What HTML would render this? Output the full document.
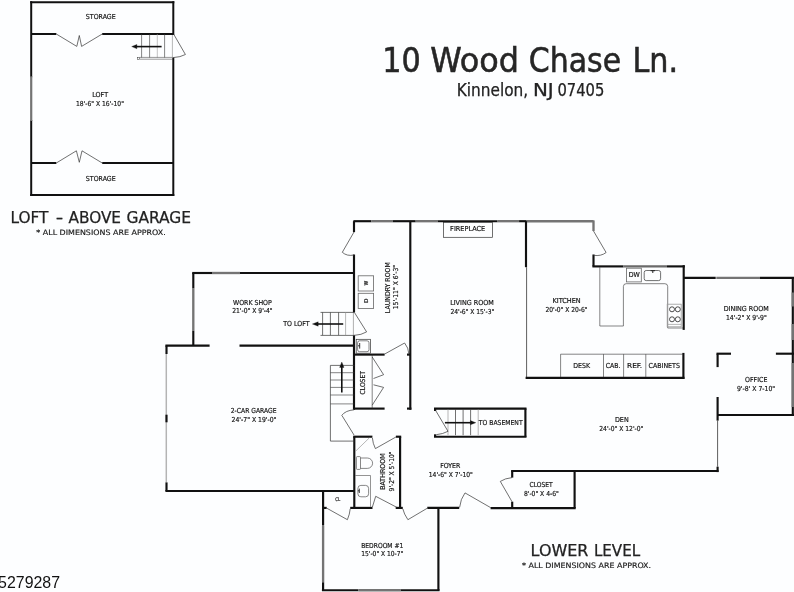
<!DOCTYPE html>
<html lang="en"><head><meta charset="utf-8"><title>10 Wood Chase Ln. - Floor Plan</title>
<style>
html,body{margin:0;padding:0;background:#fdfeff;}
body{width:794px;height:592px;overflow:hidden;}
svg{display:block;will-change:transform;transform:translateZ(0);}
.t{font-family:"DejaVu Sans Condensed","DejaVu Sans","Liberation Sans",sans-serif;fill:#151515;stroke:#151515;stroke-width:0.16px;}
.s{font-family:"DejaVu Sans Condensed","DejaVu Sans","Liberation Sans",sans-serif;fill:#1a1a1a;stroke:#1a1a1a;stroke-width:0.15px;}
.b{font-family:"DejaVu Sans Condensed","DejaVu Sans","Liberation Sans",sans-serif;fill:#222;stroke:#222;stroke-width:0.25px;}
.b1{font-family:"DejaVu Sans Condensed","DejaVu Sans","Liberation Sans",sans-serif;fill:#262626;stroke:#262626;stroke-width:0.5px;}
.a{font-family:"Liberation Sans",sans-serif;fill:#111;}
</style></head><body>
<svg width="794" height="592" viewBox="0 0 794 592">
<rect width="794" height="592" fill="#fdfeff"/>
<line x1="31.2" y1="2.2" x2="173.3" y2="2.2" stroke="#111" stroke-width="2.0" stroke-linecap="square"/>
<line x1="31.2" y1="195" x2="173.3" y2="195" stroke="#111" stroke-width="2.0" stroke-linecap="square"/>
<line x1="31.2" y1="2.2" x2="31.2" y2="76.3" stroke="#111" stroke-width="2.0" stroke-linecap="square"/>
<line x1="31.2" y1="121" x2="31.2" y2="195" stroke="#111" stroke-width="2.0" stroke-linecap="square"/>
<line x1="31.2" y1="76.3" x2="31.2" y2="121" stroke="#747474" stroke-width="2.2" stroke-linecap="butt"/>
<line x1="173.3" y1="2.2" x2="173.3" y2="34" stroke="#111" stroke-width="2.0" stroke-linecap="square"/>
<line x1="173.3" y1="58.5" x2="173.3" y2="195" stroke="#111" stroke-width="2.0" stroke-linecap="square"/>
<line x1="172.4" y1="34" x2="172.4" y2="57.5" stroke="#9a9a9a" stroke-width="0.7" stroke-linecap="butt"/>
<line x1="31.2" y1="34" x2="56.3" y2="34" stroke="#111" stroke-width="2.0" stroke-linecap="butt"/>
<line x1="102.2" y1="34" x2="173.3" y2="34" stroke="#111" stroke-width="2.0" stroke-linecap="butt"/>
<line x1="31.2" y1="163" x2="56.3" y2="163" stroke="#111" stroke-width="2.0" stroke-linecap="butt"/>
<line x1="102.2" y1="163" x2="173.3" y2="163" stroke="#111" stroke-width="2.0" stroke-linecap="butt"/>
<path d="M56.3 34 L76.8 46.4 L79.3 35.5 L81.6 46.4 L102.2 34" stroke="#333" stroke-width="0.7" fill="none"/>
<path d="M56.3 163 L76.4 150.8 L79.3 162.3 L82 150.8 L102.2 163" stroke="#333" stroke-width="0.7" fill="none"/>
<line x1="141.6" y1="34" x2="141.6" y2="57.5" stroke="#333" stroke-width="0.6" stroke-linecap="butt"/>
<line x1="149.6" y1="34" x2="149.6" y2="57.5" stroke="#333" stroke-width="0.6" stroke-linecap="butt"/>
<line x1="157.3" y1="34" x2="157.3" y2="57.5" stroke="#9a9a9a" stroke-width="0.6" stroke-linecap="butt"/>
<line x1="164.6" y1="34" x2="164.6" y2="57.5" stroke="#333" stroke-width="0.6" stroke-linecap="butt"/>
<path d="M139.6 57.4 H172.6 M139.6 59.2 H172.6" stroke="#333" stroke-width="0.5" fill="none"/>
<rect x="137.3" y="57.4" width="2.3" height="2.1" rx="0" stroke="#333" stroke-width="0.5" fill="none"/>
<path d="M173.7 34.2 L185.4 54.5 Q180.5 57.2 173.2 57.6" stroke="#333" stroke-width="0.7" fill="none"/>
<line x1="135" y1="46.6" x2="161.6" y2="46.6" stroke="#111" stroke-width="1.6" stroke-linecap="butt"/>
<path d="M131.7 46.6 L136.9 44.4 L136.9 48.8 Z" stroke="#111" stroke-width="0.3" fill="#111"/>
<text class="t" x="85.87" y="19.1" font-size="6.8" textLength="29.82" lengthAdjust="spacingAndGlyphs">STORAGE</text>
<text class="t" x="92.25" y="97.1" font-size="6.8" textLength="15.8" lengthAdjust="spacingAndGlyphs">LOFT</text>
<text class="t" x="75.99" y="106" font-size="6.8" textLength="47.93" lengthAdjust="spacingAndGlyphs">18'-6&quot; X 16'-10&quot;</text>
<text class="t" x="85.87" y="180.6" font-size="6.8" textLength="29.82" lengthAdjust="spacingAndGlyphs">STORAGE</text>
<text class="b" x="10.49" y="223.4" font-size="16.6" textLength="37.9" lengthAdjust="spacingAndGlyphs">LOFT</text>
<text class="b" x="55.85" y="223.4" font-size="16.6" textLength="7.48" lengthAdjust="spacingAndGlyphs">-</text>
<text class="b" x="68.52" y="223.4" font-size="16.6" textLength="52.51" lengthAdjust="spacingAndGlyphs">ABOVE</text>
<text class="b" x="126.5" y="223.4" font-size="16.6" textLength="64.54" lengthAdjust="spacingAndGlyphs">GARAGE</text>
<text class="s" x="36.34" y="234.9" font-size="7.5" textLength="129.34" lengthAdjust="spacingAndGlyphs">* ALL DIMENSIONS ARE APPROX.</text>
<text class="b1" x="382.2" y="71.9" font-size="33" textLength="38.45" lengthAdjust="spacingAndGlyphs">10</text>
<text class="b1" x="430.2" y="71.9" font-size="33" textLength="88.78" lengthAdjust="spacingAndGlyphs">Wood</text>
<text class="b1" x="528.79" y="71.9" font-size="33" textLength="92.43" lengthAdjust="spacingAndGlyphs">Chase</text>
<text class="b1" x="632.52" y="71.9" font-size="33" textLength="45.6" lengthAdjust="spacingAndGlyphs">Ln.</text>
<text class="b" x="456.75" y="95.5" font-size="17.3" textLength="71.35" lengthAdjust="spacingAndGlyphs">Kinnelon,</text>
<text class="b" x="532.9" y="95.5" font-size="17.3" textLength="20.77" lengthAdjust="spacingAndGlyphs">NJ</text>
<text class="b" x="557.48" y="95.5" font-size="17.3" textLength="46.93" lengthAdjust="spacingAndGlyphs">07405</text>
<text class="b" x="530.63" y="555.9" font-size="16.6" textLength="57.85" lengthAdjust="spacingAndGlyphs">LOWER</text>
<text class="b" x="593.91" y="555.9" font-size="16.6" textLength="46.28" lengthAdjust="spacingAndGlyphs">LEVEL</text>
<text class="s" x="522.04" y="567.9" font-size="7.5" textLength="129.04" lengthAdjust="spacingAndGlyphs">* ALL DIMENSIONS ARE APPROX.</text>
<text class="a" x="-1.88" y="587.9" font-size="16.5" textLength="61.93" lengthAdjust="spacingAndGlyphs">5279287</text>
<line x1="192.2" y1="273" x2="212" y2="273" stroke="#111" stroke-width="2.15" stroke-linecap="butt"/>
<line x1="212" y1="273" x2="240" y2="273" stroke="#747474" stroke-width="2.35" stroke-linecap="butt"/>
<line x1="240" y1="273" x2="354.5" y2="273" stroke="#111" stroke-width="2.15" stroke-linecap="butt"/>
<line x1="193.3" y1="273" x2="193.3" y2="288" stroke="#111" stroke-width="2.15" stroke-linecap="butt"/>
<line x1="193.3" y1="288" x2="193.3" y2="331" stroke="#747474" stroke-width="2.35" stroke-linecap="butt"/>
<line x1="193.3" y1="331" x2="193.3" y2="345.6" stroke="#111" stroke-width="2.15" stroke-linecap="butt"/>
<line x1="165.4" y1="345.6" x2="209.6" y2="345.6" stroke="#111" stroke-width="2.15" stroke-linecap="butt"/>
<line x1="239.5" y1="345.6" x2="354.5" y2="345.6" stroke="#111" stroke-width="2.15" stroke-linecap="butt"/>
<line x1="166.5" y1="345.6" x2="166.5" y2="354" stroke="#111" stroke-width="2.15" stroke-linecap="butt"/>
<line x1="166.3" y1="354" x2="166.3" y2="482.4" stroke="#b4b4b4" stroke-width="1.5" stroke-linecap="butt"/>
<line x1="166.5" y1="414.7" x2="166.5" y2="422.3" stroke="#111" stroke-width="2.15" stroke-linecap="butt"/>
<line x1="166.5" y1="482.4" x2="166.5" y2="491" stroke="#111" stroke-width="2.15" stroke-linecap="butt"/>
<line x1="165.4" y1="491" x2="354.3" y2="491" stroke="#111" stroke-width="2.15" stroke-linecap="butt"/>
<line x1="353.4" y1="221.2" x2="371.5" y2="221.2" stroke="#111" stroke-width="2.15" stroke-linecap="butt"/>
<line x1="371.5" y1="221.2" x2="393" y2="221.2" stroke="#747474" stroke-width="2.35" stroke-linecap="butt"/>
<line x1="393" y1="221.2" x2="415.7" y2="221.2" stroke="#111" stroke-width="2.15" stroke-linecap="butt"/>
<line x1="415.7" y1="221.2" x2="438" y2="221.2" stroke="#747474" stroke-width="2.35" stroke-linecap="butt"/>
<line x1="438" y1="221.2" x2="497.6" y2="221.2" stroke="#111" stroke-width="2.15" stroke-linecap="butt"/>
<line x1="497.6" y1="221.2" x2="519.1" y2="221.2" stroke="#747474" stroke-width="2.35" stroke-linecap="butt"/>
<line x1="519.1" y1="221.2" x2="526.7" y2="221.2" stroke="#111" stroke-width="2.15" stroke-linecap="butt"/>
<line x1="526.7" y1="221.2" x2="593.5" y2="221.2" stroke="#747474" stroke-width="2.35" stroke-linecap="butt"/>
<line x1="354" y1="221.2" x2="354" y2="232.1" stroke="#111" stroke-width="2.15" stroke-linecap="butt"/>
<line x1="354" y1="254.5" x2="354" y2="312.5" stroke="#111" stroke-width="2.15" stroke-linecap="butt"/>
<line x1="353.4" y1="312.5" x2="353.4" y2="335.4" stroke="#9a9a9a" stroke-width="0.8" stroke-linecap="butt"/>
<line x1="354" y1="335.4" x2="354" y2="409.8" stroke="#111" stroke-width="2.15" stroke-linecap="butt"/>
<line x1="410.3" y1="221.2" x2="410.3" y2="409.8" stroke="#111" stroke-width="2.15" stroke-linecap="butt"/>
<line x1="354" y1="354.6" x2="384.6" y2="354.6" stroke="#111" stroke-width="2.15" stroke-linecap="butt"/>
<line x1="407" y1="354.6" x2="410.3" y2="354.6" stroke="#111" stroke-width="2.15" stroke-linecap="butt"/>
<line x1="354" y1="408.6" x2="384.6" y2="408.6" stroke="#111" stroke-width="2.15" stroke-linecap="butt"/>
<line x1="407" y1="408.6" x2="411.4" y2="408.6" stroke="#111" stroke-width="2.15" stroke-linecap="butt"/>
<line x1="354.3" y1="436.7" x2="354.3" y2="507.7" stroke="#111" stroke-width="2.15" stroke-linecap="butt"/>
<line x1="353.2" y1="436.7" x2="372.4" y2="436.7" stroke="#111" stroke-width="2.15" stroke-linecap="butt"/>
<line x1="395.9" y1="436.7" x2="401.2" y2="436.7" stroke="#111" stroke-width="2.15" stroke-linecap="butt"/>
<line x1="400.1" y1="436.7" x2="400.1" y2="507.7" stroke="#111" stroke-width="2.15" stroke-linecap="butt"/>
<line x1="350.2" y1="507.9" x2="372.5" y2="507.9" stroke="#111" stroke-width="2.15" stroke-linecap="butt"/>
<line x1="395.7" y1="507.9" x2="402.8" y2="507.9" stroke="#111" stroke-width="2.15" stroke-linecap="butt"/>
<line x1="323.1" y1="491" x2="323.1" y2="525.6" stroke="#111" stroke-width="2.15" stroke-linecap="butt"/>
<line x1="323.1" y1="525.9" x2="323.1" y2="582.3" stroke="#747474" stroke-width="2.35" stroke-linecap="butt"/>
<line x1="323.1" y1="582.3" x2="323.1" y2="590.2" stroke="#111" stroke-width="2.15" stroke-linecap="butt"/>
<line x1="323.1" y1="507.9" x2="326.7" y2="507.9" stroke="#111" stroke-width="2.15" stroke-linecap="butt"/>
<line x1="321.9" y1="590.2" x2="358.5" y2="590.2" stroke="#111" stroke-width="2.15" stroke-linecap="butt"/>
<line x1="358.5" y1="590.2" x2="400.8" y2="590.2" stroke="#747474" stroke-width="2.35" stroke-linecap="butt"/>
<line x1="400.8" y1="590.2" x2="439.6" y2="590.2" stroke="#111" stroke-width="2.15" stroke-linecap="butt"/>
<line x1="438.4" y1="507.7" x2="438.4" y2="590.2" stroke="#111" stroke-width="2.15" stroke-linecap="butt"/>
<line x1="427.3" y1="507.8" x2="459.2" y2="507.8" stroke="#111" stroke-width="2.15" stroke-linecap="butt"/>
<line x1="490.6" y1="508.1" x2="575.7" y2="508.1" stroke="#111" stroke-width="2.15" stroke-linecap="butt"/>
<line x1="512.2" y1="471" x2="512.2" y2="477.6" stroke="#111" stroke-width="2.15" stroke-linecap="butt"/>
<line x1="512.2" y1="501.7" x2="512.2" y2="508.1" stroke="#111" stroke-width="2.15" stroke-linecap="butt"/>
<line x1="511.1" y1="471" x2="718.5" y2="471" stroke="#111" stroke-width="2.15" stroke-linecap="butt"/>
<line x1="574.6" y1="471" x2="574.6" y2="508.1" stroke="#111" stroke-width="2.15" stroke-linecap="butt"/>
<line x1="717.6" y1="420.6" x2="717.6" y2="466.7" stroke="#333" stroke-width="0.8" stroke-linecap="butt"/>
<line x1="717.6" y1="466.7" x2="717.6" y2="472.1" stroke="#111" stroke-width="2.15" stroke-linecap="butt"/>
<line x1="717.6" y1="353.7" x2="717.6" y2="367.1" stroke="#111" stroke-width="2.15" stroke-linecap="butt"/>
<line x1="717.6" y1="397" x2="717.6" y2="420.6" stroke="#111" stroke-width="2.15" stroke-linecap="butt"/>
<line x1="716.5" y1="353.7" x2="731" y2="353.7" stroke="#111" stroke-width="2.15" stroke-linecap="butt"/>
<line x1="775.9" y1="353.7" x2="794" y2="353.7" stroke="#111" stroke-width="2.15" stroke-linecap="butt"/>
<line x1="717.6" y1="415" x2="794" y2="415" stroke="#111" stroke-width="2.15" stroke-linecap="butt"/>
<line x1="792.8" y1="277.9" x2="792.8" y2="415" stroke="#111" stroke-width="2.15" stroke-linecap="butt"/>
<line x1="792.8" y1="292.5" x2="792.8" y2="306.5" stroke="#747474" stroke-width="2.35" stroke-linecap="butt"/>
<line x1="792.8" y1="324" x2="792.8" y2="340" stroke="#747474" stroke-width="2.35" stroke-linecap="butt"/>
<line x1="792.8" y1="363" x2="792.8" y2="407" stroke="#747474" stroke-width="2.35" stroke-linecap="butt"/>
<line x1="683.7" y1="277.9" x2="715.7" y2="277.9" stroke="#111" stroke-width="2.15" stroke-linecap="butt"/>
<line x1="716.3" y1="277.9" x2="760" y2="277.9" stroke="#747474" stroke-width="2.35" stroke-linecap="butt"/>
<line x1="760" y1="277.9" x2="794" y2="277.9" stroke="#111" stroke-width="2.15" stroke-linecap="butt"/>
<line x1="683.7" y1="265.2" x2="683.7" y2="329.9" stroke="#111" stroke-width="2.15" stroke-linecap="butt"/>
<line x1="592.4" y1="266.4" x2="623.5" y2="266.4" stroke="#111" stroke-width="2.15" stroke-linecap="butt"/>
<line x1="623.5" y1="266.4" x2="667" y2="266.4" stroke="#6a6a6a" stroke-width="2.15" stroke-linecap="butt"/>
<line x1="667" y1="266.4" x2="684.8" y2="266.4" stroke="#111" stroke-width="2.15" stroke-linecap="butt"/>
<line x1="593.5" y1="254.5" x2="593.5" y2="266.4" stroke="#111" stroke-width="2.15" stroke-linecap="butt"/>
<line x1="593.5" y1="220.39999999999998" x2="593.5" y2="231" stroke="#747474" stroke-width="2.35" stroke-linecap="butt"/>
<line x1="526" y1="221.2" x2="526" y2="267.2" stroke="#111" stroke-width="2.15" stroke-linecap="butt"/>
<line x1="526.6" y1="267.2" x2="526.6" y2="378" stroke="#333" stroke-width="0.8" stroke-linecap="butt"/>
<line x1="525.6" y1="377.8" x2="684.5" y2="377.8" stroke="#111" stroke-width="2.15" stroke-linecap="butt"/>
<line x1="683.4" y1="352.9" x2="683.4" y2="378.9" stroke="#111" stroke-width="2.15" stroke-linecap="butt"/>
<line x1="434" y1="408.6" x2="526.5" y2="408.6" stroke="#111" stroke-width="2.15" stroke-linecap="butt"/>
<line x1="434" y1="436.7" x2="526.5" y2="436.7" stroke="#111" stroke-width="2.15" stroke-linecap="butt"/>
<line x1="525.4" y1="408.6" x2="525.4" y2="436.7" stroke="#111" stroke-width="2.15" stroke-linecap="butt"/>
<line x1="435.1" y1="408.6" x2="435.1" y2="411" stroke="#111" stroke-width="2.15" stroke-linecap="butt"/>
<line x1="435.1" y1="434.3" x2="435.1" y2="436.7" stroke="#111" stroke-width="2.15" stroke-linecap="butt"/>
<path d="M354 232 L342.3 252.3 Q347 256.5 354 255" stroke="#333" stroke-width="0.7" fill="none"/>
<rect x="358.2" y="275.8" width="15.4" height="15.2" rx="0" stroke="#666" stroke-width="0.8" fill="none"/>
<rect x="358.2" y="293.3" width="15.4" height="15.2" rx="0" stroke="#666" stroke-width="0.8" fill="none"/>
<path d="M320.5 312.4 H354.5 M320.5 335.4 H354.5" stroke="#333" stroke-width="0.7" fill="none"/>
<line x1="322.6" y1="312.4" x2="322.6" y2="335.2" stroke="#333" stroke-width="0.7" stroke-linecap="butt"/>
<line x1="330.4" y1="312.4" x2="330.4" y2="335.2" stroke="#333" stroke-width="0.7" stroke-linecap="butt"/>
<line x1="338.6" y1="312.4" x2="338.6" y2="335.2" stroke="#333" stroke-width="0.7" stroke-linecap="butt"/>
<line x1="345.6" y1="312.4" x2="345.6" y2="335.2" stroke="#9a9a9a" stroke-width="0.7" stroke-linecap="butt"/>
<path d="M354.7 312.9 L366.6 331.9 Q361.5 335 354 335.4" stroke="#333" stroke-width="0.7" fill="none"/>
<line x1="316" y1="324" x2="343.2" y2="324" stroke="#111" stroke-width="1.6" stroke-linecap="butt"/>
<path d="M312.4 324 L318.2 321.8 L318.2 326.2 Z" stroke="#111" stroke-width="0.3" fill="#111"/>
<path d="M354.5 365.4 H330.4 V441.1 H354.5" stroke="#333" stroke-width="0.7" fill="none"/>
<line x1="330.4" y1="372.7" x2="354.5" y2="372.7" stroke="#333" stroke-width="0.6" stroke-linecap="butt"/>
<line x1="330.4" y1="380" x2="354.5" y2="380" stroke="#333" stroke-width="0.6" stroke-linecap="butt"/>
<line x1="330.4" y1="387.4" x2="354.5" y2="387.4" stroke="#333" stroke-width="0.6" stroke-linecap="butt"/>
<line x1="330.4" y1="395" x2="354.5" y2="395" stroke="#333" stroke-width="0.6" stroke-linecap="butt"/>
<line x1="330.4" y1="403.9" x2="354.5" y2="403.9" stroke="#333" stroke-width="0.6" stroke-linecap="butt"/>
<line x1="341.8" y1="366" x2="341.8" y2="392.5" stroke="#111" stroke-width="1.6" stroke-linecap="butt"/>
<path d="M341.8 362 L339.6 367.4 L344 367.4 Z" stroke="#111" stroke-width="0.3" fill="#111"/>
<path d="M354 435 L341.8 415.3 Q345.5 410.5 354 409.8" stroke="#333" stroke-width="0.7" fill="none"/>
<rect x="356.2" y="339.3" width="14.2" height="13.9" rx="0" stroke="#333" stroke-width="0.7" fill="none"/>
<rect x="357.6" y="340.8" width="11.4" height="10.9" rx="2" stroke="#333" stroke-width="0.6" fill="none"/>
<path d="M359.7 343 V348.6 M358 345.8 H359.7" stroke="#222" stroke-width="0.9" fill="none"/>
<path d="M384.4 354.2 L404.6 343 Q408.5 347.5 409 354.5" stroke="#333" stroke-width="0.7" fill="none"/>
<line x1="372.2" y1="354.5" x2="372.2" y2="408.4" stroke="#333" stroke-width="0.6" stroke-linecap="butt"/>
<path d="M372.2 357 L383.6 374.7 L373.5 378.5 M373.5 384.8 L383.6 387.4 L372.2 405.2" stroke="#333" stroke-width="0.7" fill="none"/>
<path d="M395.9 437 L375.4 448.6 Q372.8 443.5 372.4 438" stroke="#333" stroke-width="0.7" fill="none"/>
<path d="M369.2 438 L355.4 451.4" stroke="#9a9a9a" stroke-width="0.7" fill="none"/>
<path d="M355.2 475.5 H370.5 V506.8" stroke="#666" stroke-width="0.7" fill="none"/>
<rect x="356.4" y="456.6" width="4.1" height="12.8" rx="0.8" stroke="#555" stroke-width="0.7" fill="none"/>
<path d="M360.5 458 H367.3 A5.3 5.2 0 0 1 367.3 468.4 H360.5" stroke="#555" stroke-width="0.7" fill="none"/>
<rect x="357.9" y="485.4" width="10.7" height="11.4" rx="3" stroke="#555" stroke-width="0.7" fill="none"/>
<path d="M359.3 488.6 V493 M357.9 490.8 H359.3" stroke="#222" stroke-width="0.9" fill="none"/>
<path d="M397.3 507.6 L375.7 496.3 L372.4 507" stroke="#333" stroke-width="0.7" fill="none"/>
<path d="M326.8 508.2 L347.4 519.7 Q349.8 514 350.2 508.8" stroke="#333" stroke-width="0.7" fill="none"/>
<path d="M427.3 508.2 L407.9 519.7 Q404 514 402.8 508.8" stroke="#333" stroke-width="0.7" fill="none"/>
<path d="M490.6 507.6 L465 492.9 Q460.5 499 459.6 507.4" stroke="#333" stroke-width="0.7" fill="none"/>
<path d="M512 501.7 L500.3 481.4 Q505 478.3 512 477.6" stroke="#333" stroke-width="0.7" fill="none"/>
<line x1="448" y1="409.6" x2="448" y2="435.2" stroke="#9a9a9a" stroke-width="0.7" stroke-linecap="butt"/>
<line x1="455.5" y1="409.6" x2="455.5" y2="435.2" stroke="#333" stroke-width="0.7" stroke-linecap="butt"/>
<line x1="463.1" y1="409.6" x2="463.1" y2="435.2" stroke="#333" stroke-width="0.7" stroke-linecap="butt"/>
<line x1="470.6" y1="409.6" x2="470.6" y2="435.2" stroke="#333" stroke-width="0.7" stroke-linecap="butt"/>
<line x1="478.2" y1="409.6" x2="478.2" y2="435.2" stroke="#9a9a9a" stroke-width="0.7" stroke-linecap="butt"/>
<path d="M435.6 410.4 L448 431.3 Q443 434 436.3 434.7" stroke="#333" stroke-width="0.7" fill="none"/>
<line x1="444.9" y1="422.7" x2="472" y2="422.7" stroke="#111" stroke-width="1.6" stroke-linecap="butt"/>
<path d="M475.8 422.7 L470.4 420.6 L470.4 424.8 Z" stroke="#111" stroke-width="0.3" fill="#111"/>
<rect x="443.6" y="222.3" width="48.9" height="15" rx="0" stroke="#333" stroke-width="0.7" fill="none"/>
<path d="M593.5 231 L606.1 252.5 Q601 256.5 593.5 255.3" stroke="#333" stroke-width="0.7" fill="none"/>
<path d="M599.8 267.2 V326 H623.4 V286.5 Q623.4 283.7 626.2 283.7 H664.9 Q667.7 283.7 667.7 286.5 V328 H683" stroke="#333" stroke-width="0.6" fill="none"/>
<rect x="626.5" y="268.2" width="14.8" height="13.7" rx="0" stroke="#666" stroke-width="0.8" fill="none"/>
<rect x="644.2" y="270.5" width="16.4" height="10.1" rx="2" stroke="#333" stroke-width="0.7" fill="none"/>
<path d="M650.6 270.7 H655 M652.8 270.7 V273" stroke="#222" stroke-width="1" fill="none"/>
<rect x="667.2" y="304.2" width="14" height="22.6" rx="0" stroke="#9a9a9a" stroke-width="0.8" fill="none"/>
<line x1="667.2" y1="324.4" x2="681.2" y2="324.4" stroke="#9a9a9a" stroke-width="0.7" stroke-linecap="butt"/>
<circle cx="672" cy="309.3" r="2.5" fill="none" stroke="#222" stroke-width="0.8"/>
<circle cx="672" cy="319.3" r="2.5" fill="none" stroke="#222" stroke-width="0.8"/>
<circle cx="677.8" cy="309.3" r="2.5" fill="none" stroke="#222" stroke-width="0.8"/>
<circle cx="677.8" cy="319.3" r="2.5" fill="none" stroke="#222" stroke-width="0.8"/>
<path d="M560.6 377 V354.2 H683" stroke="#333" stroke-width="0.6" fill="none"/>
<line x1="603.5" y1="354.2" x2="603.5" y2="377" stroke="#333" stroke-width="0.6" stroke-linecap="butt"/>
<line x1="623.6" y1="354.2" x2="623.6" y2="377" stroke="#333" stroke-width="0.6" stroke-linecap="butt"/>
<line x1="645.8" y1="354.2" x2="645.8" y2="377" stroke="#333" stroke-width="0.6" stroke-linecap="butt"/>
<text class="t" x="232.98" y="304.8" font-size="6.8" textLength="38.84" lengthAdjust="spacingAndGlyphs">WORK SHOP</text>
<text class="t" x="232.18" y="313.3" font-size="6.8" textLength="40.44" lengthAdjust="spacingAndGlyphs">21'-0&quot; X 9'-4&quot;</text>
<text class="t" x="283.28" y="326.3" font-size="6.8" textLength="26.27" lengthAdjust="spacingAndGlyphs">TO LOFT</text>
<text class="t" x="230.79" y="412.7" font-size="6.8" textLength="45.69" lengthAdjust="spacingAndGlyphs">2-CAR GARAGE</text>
<text class="t" x="231.58" y="421.5" font-size="6.8" textLength="44.85" lengthAdjust="spacingAndGlyphs">24'-7&quot; X 19'-0&quot;</text>
<text class="t" transform="translate(368,285.62) rotate(-90)" font-size="5.4" textLength="4.74" lengthAdjust="spacingAndGlyphs">W</text>
<text class="t" transform="translate(368,303.0) rotate(-90)" font-size="5.4" textLength="4.51" lengthAdjust="spacingAndGlyphs">D</text>
<text class="t" transform="translate(389.7,313.13) rotate(-90)" font-size="6.8" textLength="50.94" lengthAdjust="spacingAndGlyphs">LAUNDRY ROOM</text>
<text class="t" transform="translate(398.3,309.31) rotate(-90)" font-size="6.8" textLength="44.34" lengthAdjust="spacingAndGlyphs">15'-11&quot; X 6'-3&quot;</text>
<text class="t" transform="translate(364.9,394.41) rotate(-90)" font-size="6.8" textLength="23.27" lengthAdjust="spacingAndGlyphs">CLOSET</text>
<text class="t" transform="translate(385.3,489.74) rotate(-90)" font-size="6.8" textLength="36.46" lengthAdjust="spacingAndGlyphs">BATHROOM</text>
<text class="t" transform="translate(394.1,491.41) rotate(-90)" font-size="6.8" textLength="39.93" lengthAdjust="spacingAndGlyphs">9'-2&quot; X 5'-10&quot;</text>
<text class="t" x="335.2" y="501.4" font-size="5" textLength="5.13" lengthAdjust="spacingAndGlyphs">CL</text>
<text class="t" x="361.19" y="547.8" font-size="6.8" textLength="42.11" lengthAdjust="spacingAndGlyphs">BEDROOM #1</text>
<text class="t" x="361.19" y="556.3" font-size="6.8" textLength="42.13" lengthAdjust="spacingAndGlyphs">15'-0&quot; X 10-7&quot;</text>
<text class="t" x="440.17" y="467.9" font-size="6.8" textLength="20.1" lengthAdjust="spacingAndGlyphs">FOYER</text>
<text class="t" x="428.79" y="477.1" font-size="6.8" textLength="44.03" lengthAdjust="spacingAndGlyphs">14'-6&quot; X 7'-10&quot;</text>
<text class="t" x="478.78" y="424.9" font-size="6.8" textLength="43.88" lengthAdjust="spacingAndGlyphs">TO BASEMENT</text>
<text class="t" x="529.59" y="486.5" font-size="6.8" textLength="23.17" lengthAdjust="spacingAndGlyphs">CLOSET</text>
<text class="t" x="523.88" y="495.7" font-size="6.8" textLength="34.94" lengthAdjust="spacingAndGlyphs">8'-0&quot; X 4-6&quot;</text>
<text class="t" x="450.14" y="230.9" font-size="6.8" textLength="35.07" lengthAdjust="spacingAndGlyphs">FIREPLACE</text>
<text class="t" x="450.15" y="304.7" font-size="6.8" textLength="43.68" lengthAdjust="spacingAndGlyphs">LIVING ROOM</text>
<text class="t" x="450.39" y="313.5" font-size="6.8" textLength="43.83" lengthAdjust="spacingAndGlyphs">24'-6&quot; X 15'-3&quot;</text>
<text class="t" x="552.44" y="302.7" font-size="6.8" textLength="28.19" lengthAdjust="spacingAndGlyphs">KITCHEN</text>
<text class="t" x="545.49" y="311.6" font-size="6.8" textLength="42.03" lengthAdjust="spacingAndGlyphs">20'-0&quot; X 20-6&quot;</text>
<text class="t" x="628.66" y="277" font-size="6.8" textLength="11.11" lengthAdjust="spacingAndGlyphs">DW</text>
<text class="t" x="573.27" y="368.2" font-size="6.8" textLength="16.76" lengthAdjust="spacingAndGlyphs">DESK</text>
<text class="t" x="605.68" y="368.2" font-size="6.8" textLength="14.8" lengthAdjust="spacingAndGlyphs">CAB.</text>
<text class="t" x="627.06" y="368.2" font-size="6.8" textLength="15.04" lengthAdjust="spacingAndGlyphs">REF.</text>
<text class="t" x="648.57" y="368.2" font-size="6.8" textLength="31.34" lengthAdjust="spacingAndGlyphs">CABINETS</text>
<text class="t" x="723.65" y="311.1" font-size="6.8" textLength="45.17" lengthAdjust="spacingAndGlyphs">DINING ROOM</text>
<text class="t" x="725.98" y="320.1" font-size="6.8" textLength="40.75" lengthAdjust="spacingAndGlyphs">14'-2&quot; X 9'-9&quot;</text>
<text class="t" x="745.07" y="381.8" font-size="6.8" textLength="22.32" lengthAdjust="spacingAndGlyphs">OFFICE</text>
<text class="t" x="736.88" y="390.9" font-size="6.8" textLength="38.26" lengthAdjust="spacingAndGlyphs">9'-8' X 7-10&quot;</text>
<text class="t" x="614.95" y="421.9" font-size="6.8" textLength="13.77" lengthAdjust="spacingAndGlyphs">DEN</text>
<text class="t" x="599.29" y="430.5" font-size="6.8" textLength="44.04" lengthAdjust="spacingAndGlyphs">24'-0&quot; X 12'-0&quot;</text>
</svg>
</body></html>
